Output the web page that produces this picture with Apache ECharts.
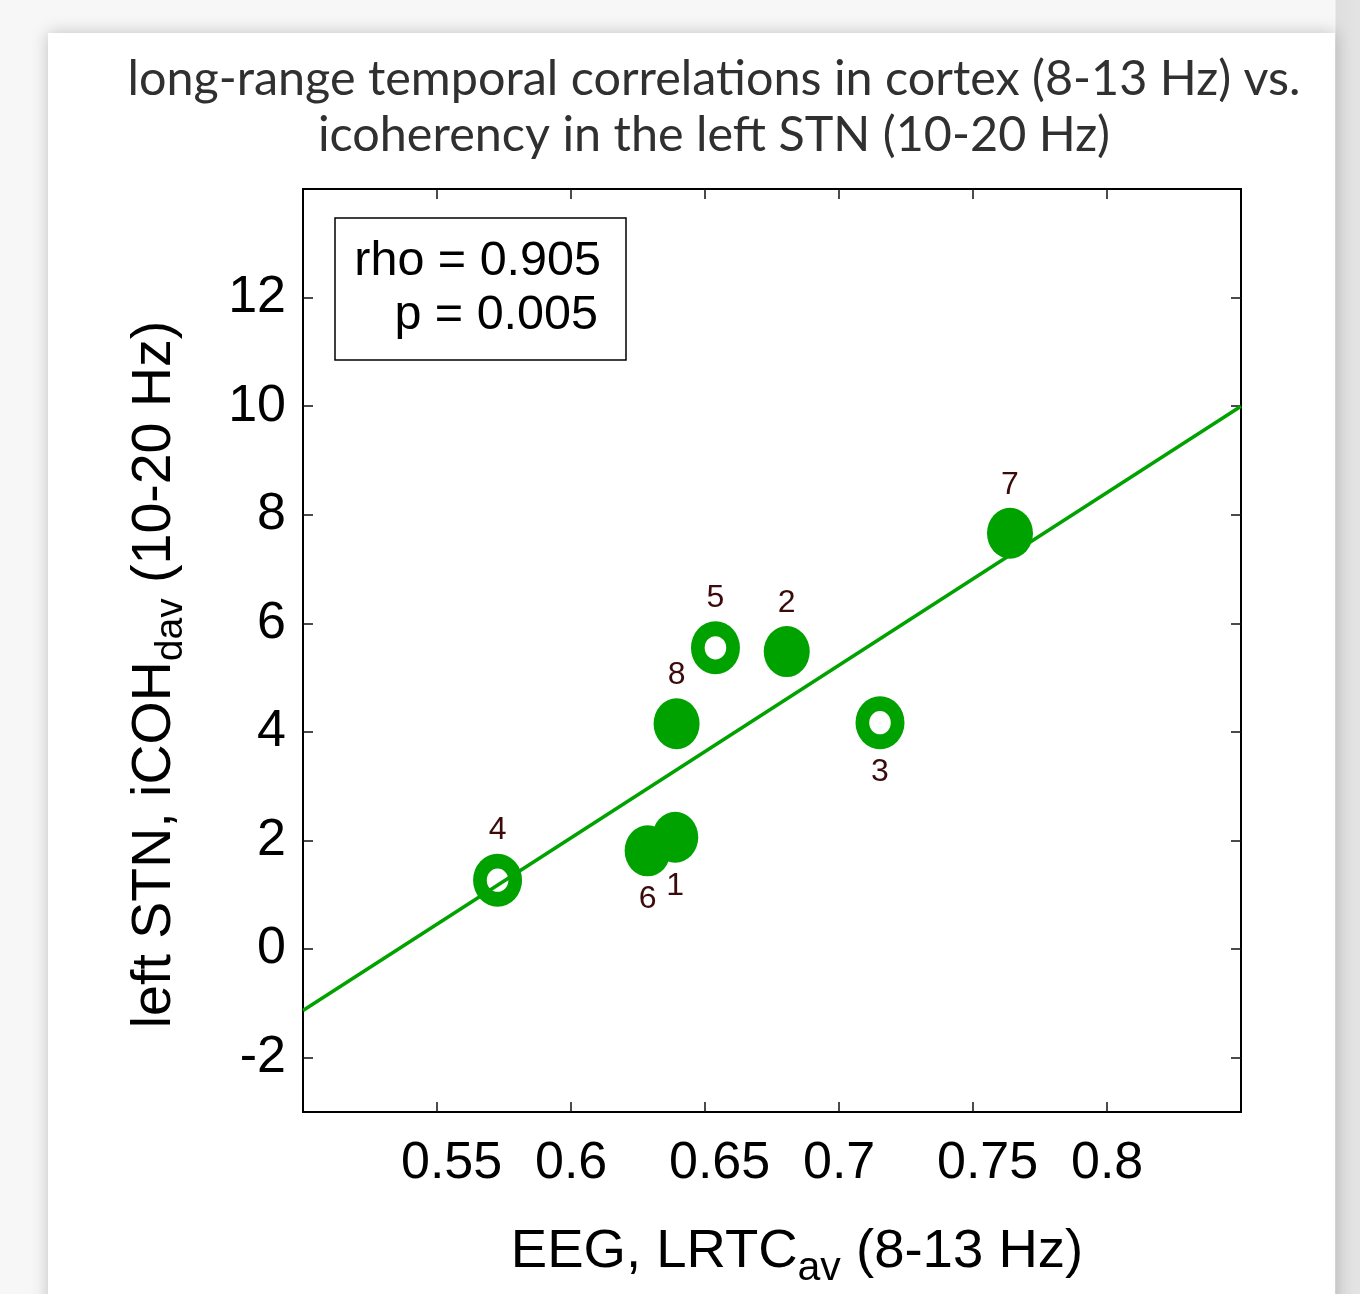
<!DOCTYPE html>
<html>
<head>
<meta charset="utf-8">
<title>LRTC vs iCOH</title>
<script src="https://cdn.jsdelivr.net/npm/echarts@6/dist/echarts.min.js"></script>
<style>
  html, body { margin: 0; padding: 0; }
  body {
    width: 1360px; height: 1294px; overflow: hidden;
    background: linear-gradient(to right, #f7f7f7 0, #f7f7f7 1335px, #dedede 1336px, #e4e4e4 100%);
  }
  #card {
    position: absolute; left: 48px; top: 33px; width: 1287px; height: 1300px;
    background: #fff; box-shadow: 0 0 16px rgba(0, 0, 0, 0.22);
  }
  #chart { position: absolute; left: 0; top: 0; width: 1360px; height: 1294px; }
</style>
</head>
<body>
<div id="card"></div>
<div id="chart"></div>
<script>
// subjects, values
const subjects = ['1', '2', '3', '4', '5', '6', '7', '8']
const lrtc = [0.6389, 0.6805, 0.7153, 0.5726, 0.6539, 0.6286, 0.7638, 0.6394] // EEG, LRTC av
const icoh = [2.06, 5.48, 4.17, 1.27, 5.55, 1.81, 7.66, 4.15] // left STN, iCOH dav
const openSubjects = ['3', '4', '5'] // drawn as rings
const labelBelow = ['1', '3', '6']

// regression line end points
const fitX = [0.5, 0.85]
const fitY = [-1.13, 10.0]

// axis ticks
const xTicks = [0.55, 0.6, 0.65, 0.7, 0.75, 0.8]
const yTicks = [-2, 0, 2, 4, 6, 8, 10, 12]

const GREEN = '#00a200'
const LABEL_COLOR = '#3b0b0b'
const FONT = '"Liberation Sans", Arial, sans-serif'

const DISC = 'path://M0,-10 A10,10 0 1,1 0,10 A10,10 0 1,1 0,-10 Z'
const RING = 'path://M0,-10 A10,10 0 1,1 0,10 A10,10 0 1,1 0,-10 Z ' +
  'M0,-4.4 A4.4,4.4 0 1,0 0,4.4 A4.4,4.4 0 1,0 0,-4.4 Z'

const points = subjects.map((id, i) => {
  const ring = openSubjects.includes(id)
  return {
    name: id,
    value: [lrtc[i], icoh[i]],
    symbol: ring ? RING : DISC,
    symbolSize: ring ? [49, 53] : [46, 51],
    label: { position: labelBelow.includes(id) ? 'bottom' : 'top' },
  }
})

const chart = echarts.init(document.getElementById('chart'))

const tickStyle = { show: true, inside: true, length: 10, lineStyle: { color: '#111', width: 1.5 } }

chart.setOption({
  animation: false,
  backgroundColor: 'transparent',
  title: {
    text: 'long-range temporal correlations in cortex (8-13 Hz) vs.\nicoherency in the left STN (10-20 Hz)',
    left: 709,
    top: 46,
    textAlign: 'center',
    textStyle: {
      fontFamily: 'Lato, "Noto Sans", sans-serif',
      fontWeight: 'normal',
      fontSize: 48.5,
      lineHeight: 56,
      color: '#303030',
    },
  },
  grid: {
    left: 303, right: 119, top: 189, bottom: 181,
    show: true, borderColor: '#000', borderWidth: 2, backgroundColor: 'transparent',
  },
  xAxis: [{
    type: 'value',
    min: 0.5, max: 0.85,
    axisLine: { show: false, onZero: false },
    splitLine: { show: false },
    axisTick: { ...tickStyle, customValues: xTicks },
    axisLabel: {
      customValues: xTicks,
      color: '#000', fontFamily: FONT, fontSize: 52,
      margin: 26, align: 'left', padding: [0, 0, 0, -36],
    },
    name: 'EEG, LRTC{sub|av} (8-13 Hz)',
    nameLocation: 'middle',
    nameGap: 103,
    nameTextStyle: {
      color: '#000', fontFamily: FONT, fontSize: 54.5, padding: [0, 0, 0, 50],
      rich: { sub: { fontFamily: FONT, fontSize: 41, color: '#000', padding: [33, 0, 0, 0] } },
    },
  }, {
    type: 'value', position: 'top',
    min: 0.5, max: 0.85,
    axisLine: { show: false, onZero: false }, splitLine: { show: false }, axisLabel: { show: false },
    axisTick: { ...tickStyle, customValues: xTicks },
  }],
  yAxis: [{
    type: 'value',
    min: -3, max: 14,
    axisLine: { show: false, onZero: false },
    splitLine: { show: false },
    axisTick: { ...tickStyle, customValues: yTicks },
    axisLabel: { customValues: yTicks, color: '#000', fontFamily: FONT, fontSize: 52, margin: 17 },
    name: 'left STN, iCOH{sub|dav} (10-20 Hz)',
    nameLocation: 'middle',
    nameRotate: 90,
    nameGap: 112,
    nameTextStyle: {
      color: '#000', fontFamily: FONT, fontSize: 55.5, padding: [0, 48, 0, 0],
      rich: { sub: { fontFamily: FONT, fontSize: 39, color: '#000', padding: [34, 0, 0, 0] } },
    },
  }, {
    type: 'value', position: 'right',
    min: -3, max: 14,
    axisLine: { show: false, onZero: false }, splitLine: { show: false }, axisLabel: { show: false },
    axisTick: { ...tickStyle, customValues: yTicks },
  }],
  graphic: [{
    type: 'rect',
    shape: { x: 335, y: 218, width: 291, height: 142 },
    style: { fill: '#fff', stroke: '#000', lineWidth: 1.5 },
    z: 10,
  }, {
    type: 'text', x: 601, y: 262, z: 11,
    style: { text: 'rho = 0.905', fontFamily: FONT, fontSize: 48.5, fill: '#000', align: 'right', verticalAlign: 'middle' },
  }, {
    type: 'text', x: 598, y: 316, z: 11,
    style: { text: 'p = 0.005', fontFamily: FONT, fontSize: 48.5, fill: '#000', align: 'right', verticalAlign: 'middle' },
  }],
  series: [{
    type: 'line',
    data: fitX.map((x, i) => [x, fitY[i]]),
    showSymbol: false,
    lineStyle: { color: GREEN, width: 3.5 },
    z: 2,
  }, {
    type: 'scatter',
    data: points,
    itemStyle: { color: GREEN, opacity: 1 },
    label: {
      show: true,
      formatter: '{b}',
      distance: 7,
      color: LABEL_COLOR,
      fontFamily: FONT,
      fontSize: 32,
    },
    z: 3,
  }],
})
</script>
</body>
</html>
